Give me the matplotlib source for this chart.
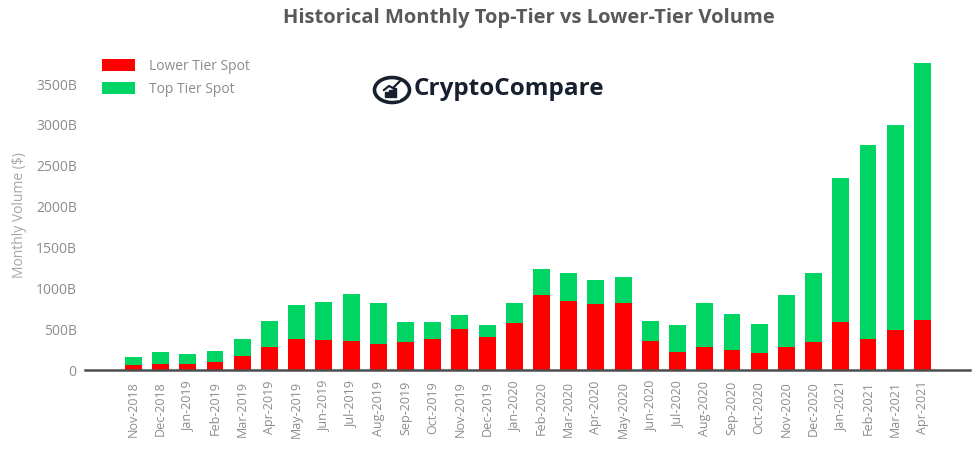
import matplotlib
matplotlib.use("Agg")
import matplotlib.pyplot as plt
from matplotlib.patches import Ellipse, Rectangle
from matplotlib.ticker import FuncFormatter

plt.rcParams["font.family"] = ["Open Sans", "DejaVu Sans"]

MONTHS = [
    "Nov-2018", "Dec-2018", "Jan-2019", "Feb-2019", "Mar-2019", "Apr-2019",
    "May-2019", "Jun-2019", "Jul-2019", "Aug-2019", "Sep-2019", "Oct-2019",
    "Nov-2019", "Dec-2019", "Jan-2020", "Feb-2020", "Mar-2020", "Apr-2020",
    "May-2020", "Jun-2020", "Jul-2020", "Aug-2020", "Sep-2020", "Oct-2020",
    "Nov-2020", "Dec-2020", "Jan-2021", "Feb-2021", "Mar-2021", "Apr-2021",
]
# volumes in billions of USD
LOWER_TIER = [61, 77, 77, 93, 175, 285, 383, 371, 359, 314, 347, 383, 506, 408,
              579, 922, 848, 812, 824, 359, 224, 285, 249, 212, 285, 347, 591,
              383, 493, 616]
TOP_TIER = [102, 147, 123, 143, 208, 318, 416, 465, 575, 510, 244, 208, 171, 147,
            245, 318, 343, 293, 318, 244, 331, 539, 440, 355, 637, 844, 1753,
            2365, 2509, 3145]
Y_TICKS = [0, 500, 1000, 1500, 2000, 2500, 3000, 3500]

RED = "#ff0000"
GREEN = "#00d564"
GREY = "#8c8c8c"
NAVY = "#16202e"

W, H = 979, 451
fig = plt.figure(figsize=(W / 100, H / 100), dpi=100)
ax = fig.add_axes([85 / W, 1 - 370 / H, 885 / W, 310.5 / H])

x = range(len(MONTHS))
ax.bar(x, LOWER_TIER, width=0.62, color=RED, label="Lower Tier Spot", zorder=2)
ax.bar(x, TOP_TIER, width=0.62, bottom=LOWER_TIER, color=GREEN,
       label="Top Tier Spot", zorder=2)

ax.set_xlim(-1.78, 30.75)
ax.set_ylim(0, 3800)
ax.set_xticks(list(x))
ax.set_xticklabels(MONTHS, rotation=90, fontsize=9, color=GREY)
ax.set_yticks(Y_TICKS)
ax.yaxis.set_major_formatter(FuncFormatter(lambda v, p: "0" if v == 0 else f"{v:.0f}B"))
ax.tick_params(axis="y", length=0, labelsize=10, labelcolor=GREY, pad=6)
ax.tick_params(axis="x", length=0, pad=8)

for s in ["top", "right", "left"]:
    ax.spines[s].set_visible(False)
ax.spines["bottom"].set_color("#4d4d4d")
ax.spines["bottom"].set_linewidth(1.8)
ax.spines["bottom"].set_zorder(3)

ax.set_ylabel("Monthly Volume ($)", fontsize=10, color="#a6a6a6", labelpad=6)

leg = ax.legend(loc="upper left", bbox_to_anchor=(0.005, 1.042), frameon=False,
                fontsize=10, labelcolor=GREY, handlelength=2.4, handleheight=0.9,
                handletextpad=1.0, labelspacing=0.55)

fig.text(529 / W, 1 - 18 / H, "Historical Monthly Top-Tier vs Lower-Tier Volume",
         ha="center", va="center", fontsize=14.5, fontweight="bold", color="#595959")

# CryptoCompare logo
fig.text(414 / W, 1 - 89 / H, "CryptoCompare", ha="left", va="center",
         fontsize=17.5, fontweight="bold", color=NAVY)
lax = fig.add_axes([372 / W, 1 - 105 / H, 40 / W, 32 / H])
lax.set_xlim(0, 40)
lax.set_ylim(0, 32)
lax.axis("off")
lax.add_patch(Ellipse((20, 15), 35, 25, fill=False, ec=NAVY, lw=2.6))
lax.add_patch(Rectangle((16, 6), 11, 6, color="white"))
for bx, bh in [(13, 5), (17, 7), (21, 9)]:
    lax.add_patch(Rectangle((bx, 8), 2.6, bh, color=NAVY))
lax.plot([12, 17, 21, 28], [15, 19, 17, 24], color=NAVY, lw=1.6)

fig.savefig("out.png", dpi=100, facecolor="white")
